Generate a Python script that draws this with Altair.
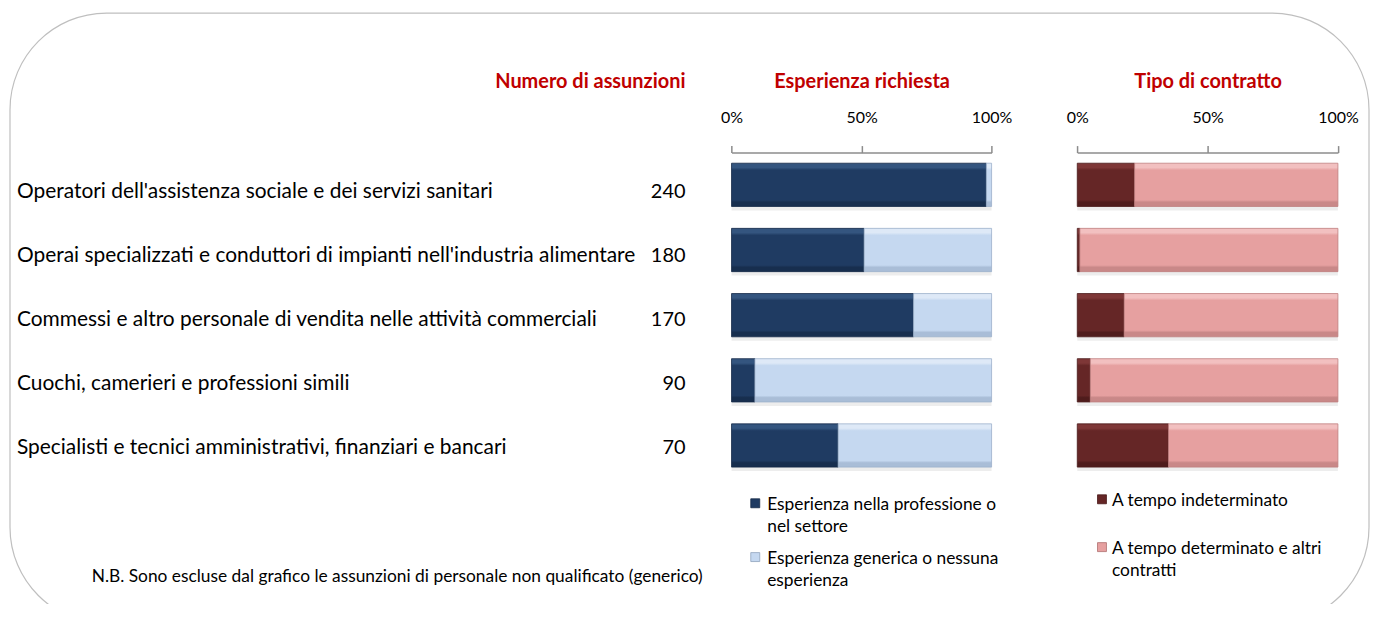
import altair as alt
import pandas as pd

categories = [
    "Operatori dell'assistenza sociale e dei servizi sanitari",
    "Operai specializzati e conduttori di impianti nell'industria alimentare",
    "Commessi e altro personale di vendita nelle attività commerciali",
    "Cuochi, camerieri e professioni simili",
    "Specialisti e tecnici amministrativi, finanziari e bancari",
]
assunzioni = [240, 180, 170, 90, 70]

exp_series = ["Esperienza nella professione o nel settore",
              "Esperienza generica o nessuna esperienza"]
exp_prof = [98, 51, 70, 9, 41]
exp_gen = [2, 49, 30, 91, 59]
exp_legend_labels = ["Esperienza nella professione o\nnel settore",
                     "Esperienza generica o nessuna\nesperienza"]

contr_series = ["A tempo indeterminato",
                "A tempo determinato e altri contratti"]
contr_ind = [22, 1, 18, 5, 35]
contr_det = [78, 99, 82, 95, 65]
contr_legend_labels = ["A tempo indeterminato",
                       "A tempo determinato e altri\ncontratti"]

tick_values = [0, 0.5, 1]
note = "N.B. Sono escluse dal grafico le assunzioni di personale non qualificato (generico)"

FONT = "Lato"
RED = "#C00000"

df = pd.DataFrame({"category": categories, "assunzioni": assunzioni})

exp_long = pd.DataFrame({
    "category": categories * 2,
    "series": [exp_series[0]] * 5 + [exp_series[1]] * 5,
    "order": [0] * 5 + [1] * 5,
    "value": exp_prof + exp_gen,
})
contr_long = pd.DataFrame({
    "category": categories * 2,
    "series": [contr_series[0]] * 5 + [contr_series[1]] * 5,
    "order": [0] * 5 + [1] * 5,
    "value": contr_ind + contr_det,
})


def grad(top, mid, bottom):
    return alt.LinearGradient(
        gradient="linear", x1=0, x2=0, y1=0, y2=1,
        stops=[
            alt.GradientStop(color=top, offset=0),
            alt.GradientStop(color=top, offset=0.10),
            alt.GradientStop(color=mid, offset=0.16),
            alt.GradientStop(color=mid, offset=0.85),
            alt.GradientStop(color=bottom, offset=0.90),
            alt.GradientStop(color=bottom, offset=1),
        ],
    )


Y_BAND = alt.Scale(domain=categories, range=[143.7, 470.7],
                   paddingInner=0.336, paddingOuter=0.168)
Y_TEXT = alt.Scale(type="point", domain=categories, range=[184, 441], padding=0)


def panel(long_df, series, x_range, title, colors, strokes):
    xs = alt.Scale(domain=[0, 1], range=x_range, nice=False, zero=False)
    base = alt.Chart(long_df).transform_stack(
        stack="value", groupby=["category"], as_=["v0", "v1"],
        sort=[alt.SortField("order", "ascending")], offset="normalize")
    shadow = alt.Chart(long_df).transform_filter(
        alt.datum.order == 0).transform_calculate(
        datum_zero="0", datum_one="1").mark_bar(
        color="#000000", opacity=0.07, yOffset=4).encode(
        x=alt.X("datum_zero:Q", scale=xs, axis=None),
        x2="datum_one:Q",
        y=alt.Y("category:N", scale=Y_BAND, axis=None),
    )
    layers = [shadow]
    for i, s in enumerate(series):
        ax = None
        if i == 0:
            ax = alt.Axis(
                orient="top", offset=-144, values=tick_values, format="%",
                grid=False, domainColor="#8C8C8C", domainWidth=1.5,
                tickColor="#8C8C8C", tickWidth=1.5, tickSize=7,
                labelFont=FONT, labelFontSize=16, labelColor="#000000",
                labelPadding=20, labelFlush=False, title=title, titleFont=FONT,
                titleFontSize=20, titleFontWeight="bold", titleColor=RED,
                titlePadding=18, zindex=1)
        layer = base.transform_filter(alt.datum.series == s).mark_bar(
            color=grad(*colors[i]), stroke=strokes[i], strokeWidth=0.8
        ).encode(
            x=alt.X("v0:Q", scale=xs, axis=ax),
            x2="v1:Q",
            y=alt.Y("category:N", scale=Y_BAND, axis=None),
        )
        layers.append(layer)
    return layers


exp_layers = panel(
    exp_long, exp_series, [726.2, 987.2], "Esperienza richiesta",
    [("#34557F", "#1F3B62", "#172E4E"), ("#DEE9F7", "#C5D8F0", "#A9BDD7")],
    ["#152A47", "#9DB1CB"])
contr_layers = panel(
    contr_long, contr_series, [1073.2, 1334.8], "Tipo di contratto",
    [("#7E3737", "#652626", "#4F1C1C"), ("#F2C0C0", "#E6A0A0", "#C98888")],
    ["#4A1A1A", "#BF8080"])

border = alt.Chart(pd.DataFrame({"a": [0]})).mark_rect(
    fill="#FFFFFF", fillOpacity=0, stroke="#BFBFBF", strokeWidth=1.2,
    cornerRadius=97
).encode(x=alt.value(2), x2=alt.value(1366), y=alt.value(4), y2=alt.value(617))

cat_text = alt.Chart(df).mark_text(
    align="left", baseline="middle", font=FONT, fontSize=21, color="#000000"
).encode(x=alt.value(9), y=alt.Y("category:N", scale=Y_TEXT, axis=None),
         text="category:N")

num_text = alt.Chart(df).mark_text(
    align="right", baseline="middle", font=FONT, fontSize=20, color="#000000"
).encode(x=alt.value(680), y=alt.Y("category:N", scale=Y_TEXT, axis=None),
         text="assunzioni:Q")

num_title = alt.Chart(pd.DataFrame({"t": ["Numero di assunzioni"]})).mark_text(
    align="right", baseline="middle", font=FONT, fontSize=20,
    fontWeight="bold", color=RED
).encode(x=alt.value(680), y=alt.value(73), text="t:N")

exp_leg_df = pd.DataFrame({"series": exp_series, "label": exp_legend_labels})
contr_leg_df = pd.DataFrame({"series": contr_series, "label": contr_legend_labels})


def legend(leg_df, series, colors, strokes, x_sq, x_txt, y_range):
    ys = alt.Scale(type="point", domain=series, range=y_range, padding=0)
    cs = alt.Scale(domain=series, range=colors)
    sq = alt.Chart(leg_df).mark_square(size=81, opacity=1, strokeWidth=0.8).encode(
        x=alt.value(x_sq), y=alt.Y("series:N", scale=ys, axis=None),
        fill=alt.Fill("series:N", scale=cs, legend=None),
        stroke=alt.Stroke("series:N", scale=alt.Scale(domain=series, range=strokes), legend=None))
    tx = alt.Chart(leg_df).mark_text(
        align="left", baseline="top", font=FONT, fontSize=17.4, lineHeight=22,
        lineBreak="\n", color="#000000", dy=-7
    ).encode(x=alt.value(x_txt), y=alt.Y("series:N", scale=ys, axis=None),
             text="label:N")
    return [sq, tx]


exp_leg = legend(exp_leg_df, exp_series, ["#1F3B62", "#C5D8F0"],
                 ["#152A47", "#8FA3BD"], 750, 762, [496, 550])
contr_leg = legend(contr_leg_df, contr_series, ["#652626", "#E6A0A0"],
                   ["#4A1A1A", "#B07070"], 1098, 1108, [492, 540])

note_text = alt.Chart(pd.DataFrame({"t": [note]})).mark_text(
    align="left", baseline="middle", font=FONT, fontSize=17.4, color="#000000"
).encode(x=alt.value(84), y=alt.value(570), text="t:N")

chart = alt.layer(
    border, cat_text, num_text, num_title,
    *exp_layers, *contr_layers, *exp_leg, *contr_leg, note_text
).resolve_scale(
    x="independent", y="independent", fill="independent", stroke="independent"
).resolve_axis(x="independent", y="independent").properties(
    width=1367, height=596, padding=0,
    autosize=alt.AutoSizeParams(type="none"),
).configure_view(stroke=None)

chart.save("out.html", embed_options={"renderer": "svg", "actions": False})
